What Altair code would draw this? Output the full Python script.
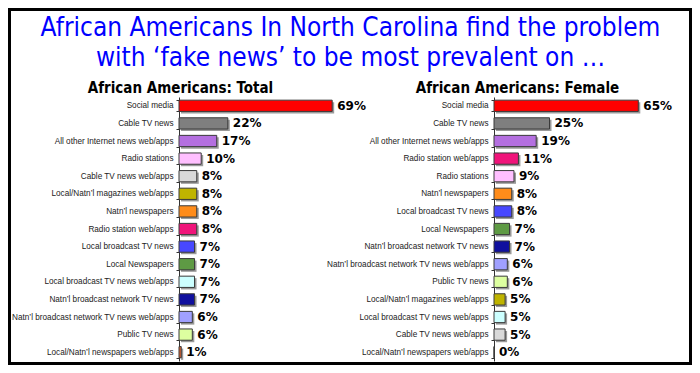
import altair as alt
import pandas as pd

title_lines = ["African Americans In North Carolina find the problem",
               "with \u2018fake news\u2019 to be most prevalent on \u2026"]

all_cats = ["Social media", "Cable TV news", "All other Internet news web/apps",
            "Radio stations", "Cable TV news web/apps", "Local/Natn\u2019l magazines web/apps",
            "Natn\u2019l newspapers", "Radio station web/apps", "Local broadcast TV news",
            "Local Newspapers", "Local broadcast TV news web/apps",
            "Natn\u2019l broadcast network TV news", "Natn\u2019l broadcast network TV news web/apps",
            "Public TV news", "Local/Natn\u2019l newspapers web/apps"]
cat_colors = ["#FF0000", "#7F7F7F", "#B46FE0", "#FFBFFF", "#D9D9D9", "#BFB400",
              "#FF8C1A", "#F0147A", "#4848FF", "#5E9A44", "#CCFFFF",
              "#10109E", "#A0A0FF", "#DDFFA0", "#E0622E"]

left_title = "African Americans: Total"
left_cats = all_cats
left_vals = [69, 22, 17, 10, 8, 8, 8, 8, 7, 7, 7, 7, 6, 6, 1]

right_title = "African Americans: Female"
right_cats = ["Social media", "Cable TV news", "All other Internet news web/apps",
              "Radio station web/apps", "Radio stations", "Natn\u2019l newspapers",
              "Local broadcast TV news", "Local Newspapers", "Natn\u2019l broadcast network TV news",
              "Natn\u2019l broadcast network TV news web/apps", "Public TV news",
              "Local/Natn\u2019l magazines web/apps", "Local broadcast TV news web/apps",
              "Cable TV news web/apps", "Local/Natn\u2019l newspapers web/apps"]
right_vals = [65, 25, 19, 11, 9, 8, 8, 7, 7, 6, 6, 5, 5, 5, 0]

LABEL_FONT = "Liberation Sans"
VALUE_FONT = "DejaVu Sans"
TITLE_FONT = "DejaVu Sans Condensed, DejaVu Sans"

color_scale = alt.Scale(domain=all_cats, range=cat_colors)


def panel(cats, vals, subtitle, x0, title_dx, main_title=None):
    df = pd.DataFrame({"cat": cats, "val": vals, "lbl": [f"{v}%" for v in vals]})
    base = alt.Chart(df)
    xs = alt.Scale(domain=[0, 100], range=[x0, x0 + 222])
    ys = alt.Scale(range=[89, 353], paddingInner=0.36, paddingOuter=0.18)
    y_axis = alt.Y("cat:N", sort=cats, scale=ys,
                   axis=alt.Axis(orient="left", offset=-x0, title=subtitle,
                                 titleAngle=0, titleX=title_dx, titleY=79,
                                 titleAlign="center", titleBaseline="middle",
                                 titleFont=TITLE_FONT, titleFontSize=15,
                                 titleFontWeight="bold", titleColor="black",
                                 labelFont=LABEL_FONT, labelFontSize=8.2,
                                 labelColor="#222222", labelPadding=3,
                                 tickBand="extent", tickSize=3, tickColor="#333333",
                                 domainColor="#333333", labelLimit=300))
    if main_title is None:
        x_axis = None
    else:
        x_axis = alt.Axis(orient="top", domain=False, ticks=False, labels=False,
                          grid=False, title=main_title, titleX=342, titleY=27,
                          titleAlign="center", titleBaseline="alphabetic",
                          titleFont=TITLE_FONT, titleFontSize=26,
                          titleFontWeight="normal", titleColor="#0000FF",
                          titleLineHeight=30)
    x_enc = alt.X("val:Q", scale=xs, axis=x_axis)
    shadow = base.mark_bar(color="#9a9a9a", xOffset=2, yOffset=2).encode(x=x_enc, y=y_axis)
    bars = base.mark_bar(stroke="#3a3a3a", strokeWidth=1).encode(
        x=x_enc, y=y_axis,
        color=alt.Color("cat:N", scale=color_scale, legend=None))
    text = base.mark_text(align="left", baseline="middle", dx=5, font=VALUE_FONT,
                          fontSize=12, fontWeight="bold", color="black").encode(
        x=x_enc, y=y_axis, text="lbl:N")
    return alt.layer(shadow, bars, text)


left = panel(left_cats, left_vals, left_title, 171, 1, main_title=title_lines)
right = panel(right_cats, right_vals, right_title, 486, 23)

chart = alt.layer(left, right).resolve_scale(x="independent", y="independent").properties(
    width=684, height=357, padding=0, background="white",
    autosize=alt.AutoSizeParams(type="none"),
).configure_view(stroke="black", strokeWidth=6)

chart.save("out.html", embed_options={"renderer": "svg", "actions": False})
